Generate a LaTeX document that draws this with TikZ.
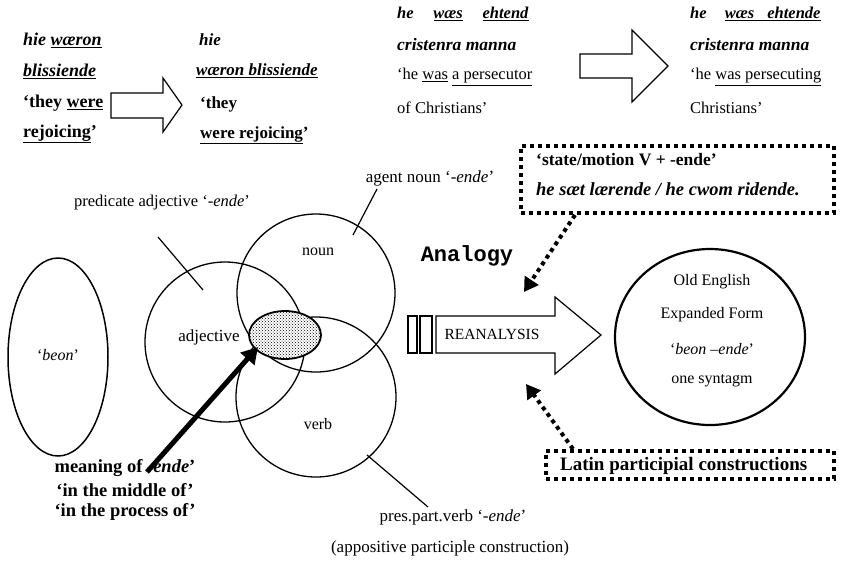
\documentclass[tikz,border=0pt]{standalone}
\usepackage{fontspec}
\setmainfont{Liberation Serif}
\newfontfamily\monofont{Liberation Mono}
\usetikzlibrary{arrows.meta,shapes.geometric,patterns}
\newcommand{\fs}[1]{\fontsize{#1}{#1}\selectfont}
\begin{document}
\begin{tikzpicture}[x=1pt,y=-1pt,
  txt/.style={anchor=west,inner sep=0pt,font=\fs{15}},
  ctxt/.style={inner sep=0pt,font=\fs{15}},
  venn/.style={circle,draw,line width=1.3pt,inner sep=0pt},
  hollow/.style={draw,line width=1.2pt,fill=white},
  dotbox/.style={draw,line width=4pt,dash pattern=on 4pt off 4pt,inner sep=0pt},
  dotarrow/.style={line width=4pt,dash pattern=on 4pt off 4pt,-{Triangle[length=14pt,width=16pt]}}]
\useasboundingbox (0,0) rectangle (848,566);
% ---- top left example
\node[txt,font=\fs{18}] (a1) at (23,40) {\textbf{\textit{hie} \underline{\textit{wæron}}}};
\node[txt,font=\fs{18}] (a2) at (23,71) {\textbf{\underline{\textit{blissiende}}}};
\node[txt,font=\fs{18}] (a3) at (23,103) {\textbf{`they \underline{were}}};
\node[txt,font=\fs{18}] (a4) at (23,134) {\textbf{\underline{rejoicing}’}};
\draw[hollow] (111,93) -- (163,93) -- (163,78) -- (182,105) -- (163,132) -- (163,118) -- (111,118) -- cycle;
\node[txt,font=\fs{17}] (b1) at (199,40) {\textbf{\textit{hie}}};
\node[txt,font=\fs{17}] (b2) at (196,71) {\textbf{\underline{\textit{wæron blissiende}}}};
\node[txt,font=\fs{17}] (b3) at (200,104) {\textbf{`they}};
\node[txt,font=\fs{17}] (b4) at (200,135) {\textbf{\underline{were rejoicing}’}};
% ---- top middle example
\node[txt,font=\fs{16.5}] (c1) at (397,14) {\textbf{\textit{he}\hspace{1.2em}\underline{\textit{wæs}}\hspace{1.2em}\underline{\textit{ehtend}}}};
\node[txt,font=\fs{17.5}] (c2) at (397,45) {\textbf{\textit{cristenra manna}}};
\node[txt,font=\fs{16.5}] (c3) at (397,77) {`he \underline{was} \underline{a persecutor}};
\node[txt,font=\fs{16.5}] (c4) at (397,108) {of Christians’};
\draw[hollow] (580,54) -- (632,54) -- (632,30) -- (668,66) -- (632,102) -- (632,78) -- (580,78) -- cycle;
\node[txt,font=\fs{16.5}] (d1) at (690,14) {\textbf{\textit{he}\hspace{1.1em}\underline{\textit{wæs\hspace{0.8em}ehtende}}}};
\node[txt,font=\fs{17.5}] (d2) at (690,45) {\textbf{\textit{cristenra manna}}};
\node[txt,font=\fs{16.5}] (d3) at (690,77) {`he \underline{was persecuting}};
\node[txt,font=\fs{16.5}] (d4) at (690,108) {Christians’};
% ---- state/motion box
\node[dotbox,minimum width=313pt,minimum height=67pt] (sbox) at (677.5,179.5) {};
\node[txt,font=\fs{17.5}] (s1) at (536,160) {\textbf{`state/motion V + -ende’}};
\node[txt,font=\fs{18.5}] (s2) at (536,189) {\textbf{\textit{he sæt lærende / he cwom ridende.}}};
% ---- Latin box
\node[dotbox,minimum width=288pt,minimum height=28pt] (lbox) at (690,465) {};
\node[txt,font=\fs{19}] (l1) at (560,466) {\textbf{Latin participial constructions}};
% ---- Venn part
\node[ellipse,draw,line width=1.5pt,minimum width=100pt,minimum height=198pt] (beon) at (58,357) {};
\node[ctxt,font=\fs{16}] at (58,355) {`\textit{beon}’};
\node[venn,minimum size=160pt] (adj) at (225,342) {};
\node[venn,minimum size=158pt] (noun) at (316,293) {};
\node[venn,minimum size=160pt] (verb) at (316,397) {};
\node[ellipse,draw,line width=1.8pt,fill=white,postaction={pattern=crosshatch dots},minimum width=72pt,minimum height=48pt] (core) at (285,335) {};
\node[ctxt,font=\fs{17}] (adjl) at (209,337) {adjective};
\node[ctxt,font=\fs{16}] (nounl) at (318,252) {noun};
\node[ctxt,font=\fs{16}] (verbl) at (318,424) {verb};
\node[ctxt,font=\fs{16.5}] (pred) at (162,203) {predicate adjective `-\textit{ende}’};
\node[ctxt,font=\fs{17}] (agent) at (430,178) {agent noun `-\textit{ende}’};
\node[ctxt,font=\fs{17}] (pres) at (453,517) {pres.part.verb `-\textit{ende}’};
\node[ctxt,font=\fs{17}] (appos) at (450,548) {(appositive participle construction)};
\coordinate (predA) at (158,237); \coordinate (predB) at (203,290);
\coordinate (agA) at (377,189); \coordinate (agB) at (353,235);
\coordinate (prA) at (367,455); \coordinate (prB) at (428,507);
\draw[line width=1.2pt] (predA) -- (predB);
\draw[line width=1.2pt] (agA) -- (agB);
\draw[line width=1.2pt] (prA) -- (prB);
% meaning
\node[ctxt,font=\fs{18.5}\bfseries] (m1) at (125,468) {meaning of -\textit{ende}’};
\node[ctxt,font=\fs{18.5}\bfseries] (m2) at (125,490) {`in the middle of’};
\node[ctxt,font=\fs{18.5}\bfseries] (m3) at (125,512) {`in the process of’};
\coordinate (mtail) at (147,472);
\draw[line width=5pt,-{Triangle[length=16pt,width=18pt]}] (mtail) -- (258,347);
% ---- reanalysis arrow
\draw[line width=1.2pt] (408,316) rectangle (417,353);
\draw[line width=1.2pt] (420,316) rectangle (432,353);
\draw[hollow] (436,316) -- (555,316) -- (555,297) -- (601,335) -- (555,374) -- (555,353) -- (436,353) -- cycle;
\node[ctxt,font=\fs{15.5}] (rean) at (492,334) {REANALYSIS};
\node[ctxt,font=\fs{22}\monofont\bfseries] (anal) at (467,256) {Analogy};
% ---- result circle
\node[ellipse,draw,line width=2.2pt,minimum width=190pt,minimum height=176pt] (oe) at (710,337) {};
\node[ctxt,font=\fs{16}] (o1) at (712,282) {Old English};
\node[ctxt,font=\fs{16}] (o2) at (712,315) {Expanded Form};
\node[ctxt,font=\fs{16}] (o3) at (712,349) {`\textit{beon –ende}’};
\node[ctxt,font=\fs{16}] (o4) at (712,381) {one syntagm};
% ---- dotted arrows
\coordinate (t1) at (524,292);
\coordinate (t2) at (526,384);
\draw[dotarrow] ([xshift=56pt]sbox.south west) -- (t1);
\draw[dotarrow] ([xshift=29pt]lbox.north west) -- (t2);
\end{tikzpicture}
\end{document}
